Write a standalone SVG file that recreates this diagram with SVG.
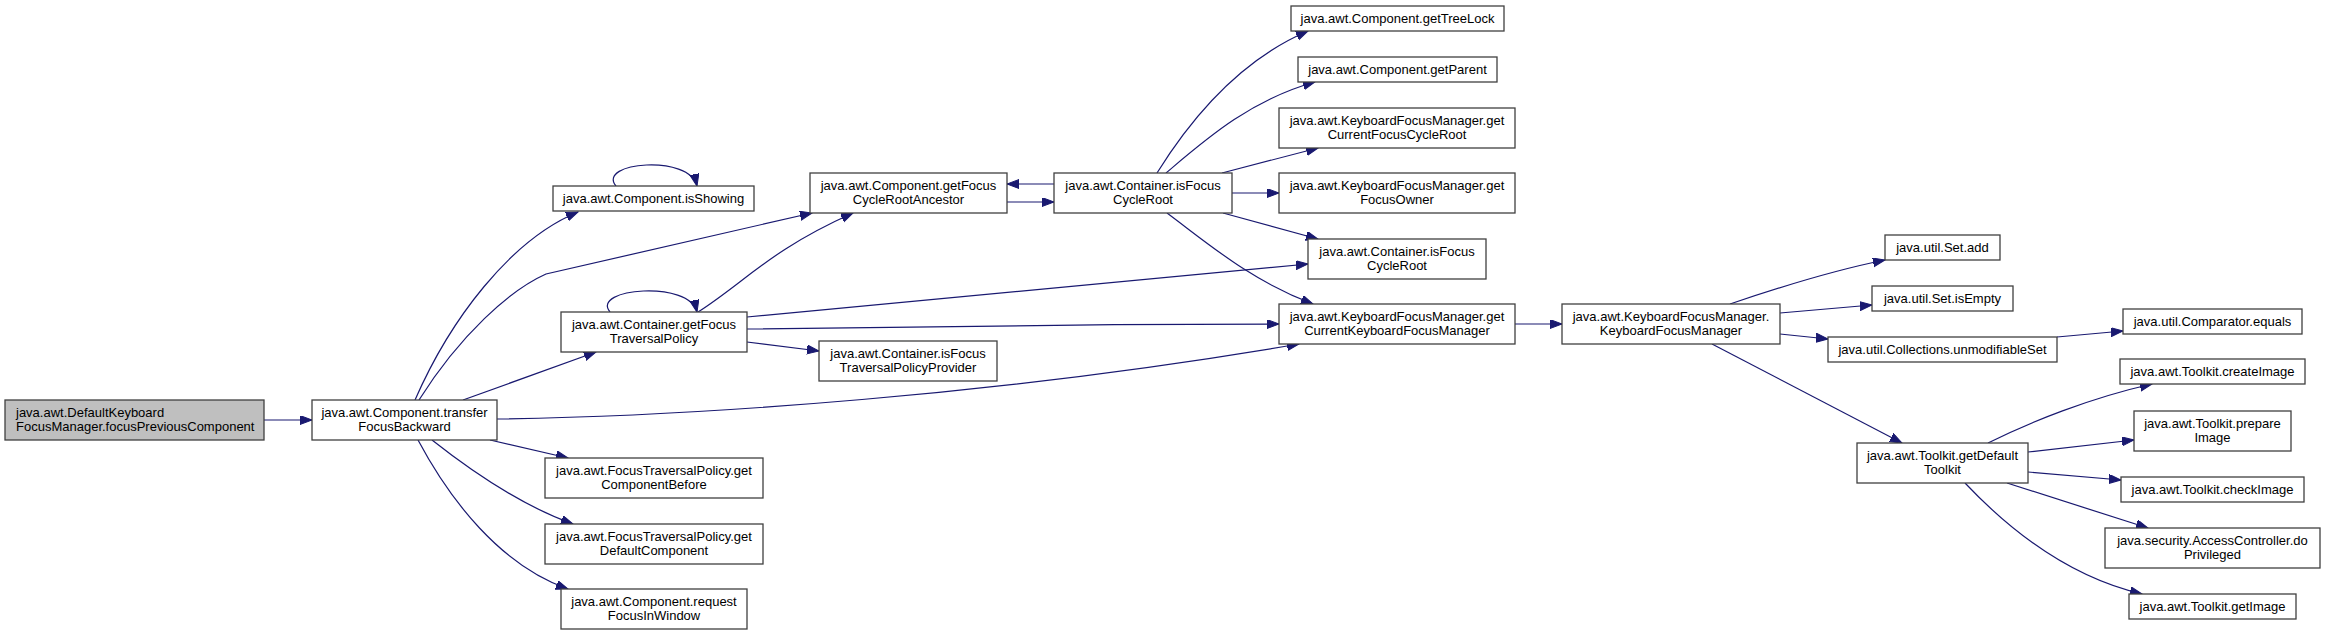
<svg xmlns="http://www.w3.org/2000/svg" width="2325" height="635" viewBox="0 0 2325 635">
<style>
.n rect{fill:#ffffff;stroke:#404040;stroke-width:1.3}
.n.g rect{fill:#bfbfbf}
.n text{font-family:"Liberation Sans",Arial,sans-serif;font-size:13px;fill:#000000;text-anchor:middle}
.n.g text{text-anchor:start}
#edges path{fill:none;stroke:#191970;stroke-width:1.2}
</style>
<defs>
<marker id="ah" markerUnits="userSpaceOnUse" markerWidth="13" markerHeight="10" refX="12" refY="4.5" orient="auto">
<path d="M0,0 L12,4.5 L0,9 z" fill="#191970" stroke="#191970" stroke-width="1"/>
</marker>
</defs>
<rect width="2325" height="635" fill="#ffffff"/>
<g id="edges">
<path marker-end="url(#ah)" d="M264,420 L312,420"/>
<path marker-end="url(#ah)" d="M415,400 C450,320 510,240 578,212"/>
<path marker-end="url(#ah)" d="M419,400 C460,335 510,290 546,274 L812,213"/>
<path marker-end="url(#ah)" d="M463,400 L596,352"/>
<path marker-end="url(#ah)" d="M497,419 C700,416 1000,395 1299,344"/>
<path marker-end="url(#ah)" d="M490,440 L568,458"/>
<path marker-end="url(#ah)" d="M432,440 C470,470 520,505 573,524"/>
<path marker-end="url(#ah)" d="M418,440 C450,500 500,565 568,589"/>
<path marker-end="url(#ah)" d="M616,186 C596,162 690,154 697,186"/>
<path marker-end="url(#ah)" d="M610,312 C590,288 690,280 697,312"/>
<path marker-end="url(#ah)" d="M698,312 C745,282 770,250 853,213"/>
<path marker-end="url(#ah)" d="M747,317 L1308,264"/>
<path marker-end="url(#ah)" d="M747,329 C1000,326 1100,324 1279,324"/>
<path marker-end="url(#ah)" d="M747,342 L819,351"/>
<path marker-end="url(#ah)" d="M1007,202 L1054,202"/>
<path marker-end="url(#ah)" d="M1054,184 L1007,184"/>
<path marker-end="url(#ah)" d="M1157,173 C1190,120 1240,60 1308,31"/>
<path marker-end="url(#ah)" d="M1166,173 C1205,140 1250,100 1315,82"/>
<path marker-end="url(#ah)" d="M1222,173 L1318,148"/>
<path marker-end="url(#ah)" d="M1232,193 L1279,193"/>
<path marker-end="url(#ah)" d="M1223,213 L1318,239"/>
<path marker-end="url(#ah)" d="M1167,213 C1210,245 1250,280 1313,304"/>
<path marker-end="url(#ah)" d="M1515,324 L1562,324"/>
<path marker-end="url(#ah)" d="M1730,304 C1780,287 1830,271 1885,260"/>
<path marker-end="url(#ah)" d="M1780,313 L1872,305"/>
<path marker-end="url(#ah)" d="M1780,334 L1828,339"/>
<path marker-end="url(#ah)" d="M1712,344 L1902,443"/>
<path marker-end="url(#ah)" d="M2057,337 L2123,331"/>
<path marker-end="url(#ah)" d="M1988,443 C2030,422 2090,398 2152,384"/>
<path marker-end="url(#ah)" d="M2028,452 L2134,440"/>
<path marker-end="url(#ah)" d="M2028,472 L2121,480"/>
<path marker-end="url(#ah)" d="M2007,483 L2148,528"/>
<path marker-end="url(#ah)" d="M1965,483 C2000,520 2060,575 2142,594"/>
</g>
<g id="n1" class="n g"><rect x="5" y="400" width="259" height="40"/><text x="16" y="416.5">java.awt.DefaultKeyboard</text><text x="16" y="431">FocusManager.focusPreviousComponent</text></g>
<g id="n2" class="n"><rect x="312" y="400" width="185" height="40"/><text x="404.5" y="416.5">java.awt.Component.transfer</text><text x="404.5" y="431">FocusBackward</text></g>
<g id="n3" class="n"><rect x="553" y="186" width="201" height="25"/><text x="653.5" y="203">java.awt.Component.isShowing</text></g>
<g id="n4" class="n"><rect x="810" y="173" width="197" height="40"/><text x="908.5" y="189.5">java.awt.Component.getFocus</text><text x="908.5" y="204">CycleRootAncestor</text></g>
<g id="n5" class="n"><rect x="561" y="312" width="186" height="40"/><text x="654" y="328.5">java.awt.Container.getFocus</text><text x="654" y="343">TraversalPolicy</text></g>
<g id="n6" class="n"><rect x="819" y="341" width="178" height="40"/><text x="908" y="357.5">java.awt.Container.isFocus</text><text x="908" y="372">TraversalPolicyProvider</text></g>
<g id="n7" class="n"><rect x="545" y="458" width="218" height="40"/><text x="654" y="474.5">java.awt.FocusTraversalPolicy.get</text><text x="654" y="489">ComponentBefore</text></g>
<g id="n8" class="n"><rect x="545" y="524" width="218" height="40"/><text x="654" y="540.5">java.awt.FocusTraversalPolicy.get</text><text x="654" y="555">DefaultComponent</text></g>
<g id="n9" class="n"><rect x="561" y="589" width="186" height="40"/><text x="654" y="605.5">java.awt.Component.request</text><text x="654" y="620">FocusInWindow</text></g>
<g id="n10" class="n"><rect x="1054" y="173" width="178" height="40"/><text x="1143" y="189.5">java.awt.Container.isFocus</text><text x="1143" y="204">CycleRoot</text></g>
<g id="n11" class="n"><rect x="1291" y="6" width="213" height="25"/><text x="1397.5" y="23">java.awt.Component.getTreeLock</text></g>
<g id="n12" class="n"><rect x="1298" y="57" width="199" height="25"/><text x="1397.5" y="74">java.awt.Component.getParent</text></g>
<g id="n13" class="n"><rect x="1279" y="108" width="236" height="40"/><text x="1397" y="124.5">java.awt.KeyboardFocusManager.get</text><text x="1397" y="139">CurrentFocusCycleRoot</text></g>
<g id="n14" class="n"><rect x="1279" y="173" width="236" height="40"/><text x="1397" y="189.5">java.awt.KeyboardFocusManager.get</text><text x="1397" y="204">FocusOwner</text></g>
<g id="n15" class="n"><rect x="1308" y="239" width="178" height="40"/><text x="1397" y="255.5">java.awt.Container.isFocus</text><text x="1397" y="270">CycleRoot</text></g>
<g id="n16" class="n"><rect x="1279" y="304" width="236" height="40"/><text x="1397" y="320.5">java.awt.KeyboardFocusManager.get</text><text x="1397" y="335">CurrentKeyboardFocusManager</text></g>
<g id="n17" class="n"><rect x="1562" y="304" width="218" height="40"/><text x="1671" y="320.5">java.awt.KeyboardFocusManager.</text><text x="1671" y="335">KeyboardFocusManager</text></g>
<g id="n18" class="n"><rect x="1885" y="235" width="115" height="25"/><text x="1942.5" y="252">java.util.Set.add</text></g>
<g id="n19" class="n"><rect x="1872" y="286" width="141" height="25"/><text x="1942.5" y="303">java.util.Set.isEmpty</text></g>
<g id="n20" class="n"><rect x="1828" y="337" width="229" height="25"/><text x="1942.5" y="354">java.util.Collections.unmodifiableSet</text></g>
<g id="n21" class="n"><rect x="2123" y="309" width="179" height="25"/><text x="2212.5" y="326">java.util.Comparator.equals</text></g>
<g id="n22" class="n"><rect x="1857" y="443" width="171" height="40"/><text x="1942.5" y="459.5">java.awt.Toolkit.getDefault</text><text x="1942.5" y="474">Toolkit</text></g>
<g id="n23" class="n"><rect x="2120" y="359" width="185" height="25"/><text x="2212.5" y="376">java.awt.Toolkit.createImage</text></g>
<g id="n24" class="n"><rect x="2134" y="411" width="157" height="40"/><text x="2212.5" y="427.5">java.awt.Toolkit.prepare</text><text x="2212.5" y="442">Image</text></g>
<g id="n25" class="n"><rect x="2121" y="477" width="183" height="25"/><text x="2212.5" y="494">java.awt.Toolkit.checkImage</text></g>
<g id="n26" class="n"><rect x="2105" y="528" width="215" height="40"/><text x="2212.5" y="544.5">java.security.AccessController.do</text><text x="2212.5" y="559">Privileged</text></g>
<g id="n27" class="n"><rect x="2129" y="594" width="167" height="25"/><text x="2212.5" y="611">java.awt.Toolkit.getImage</text></g>
</svg>
